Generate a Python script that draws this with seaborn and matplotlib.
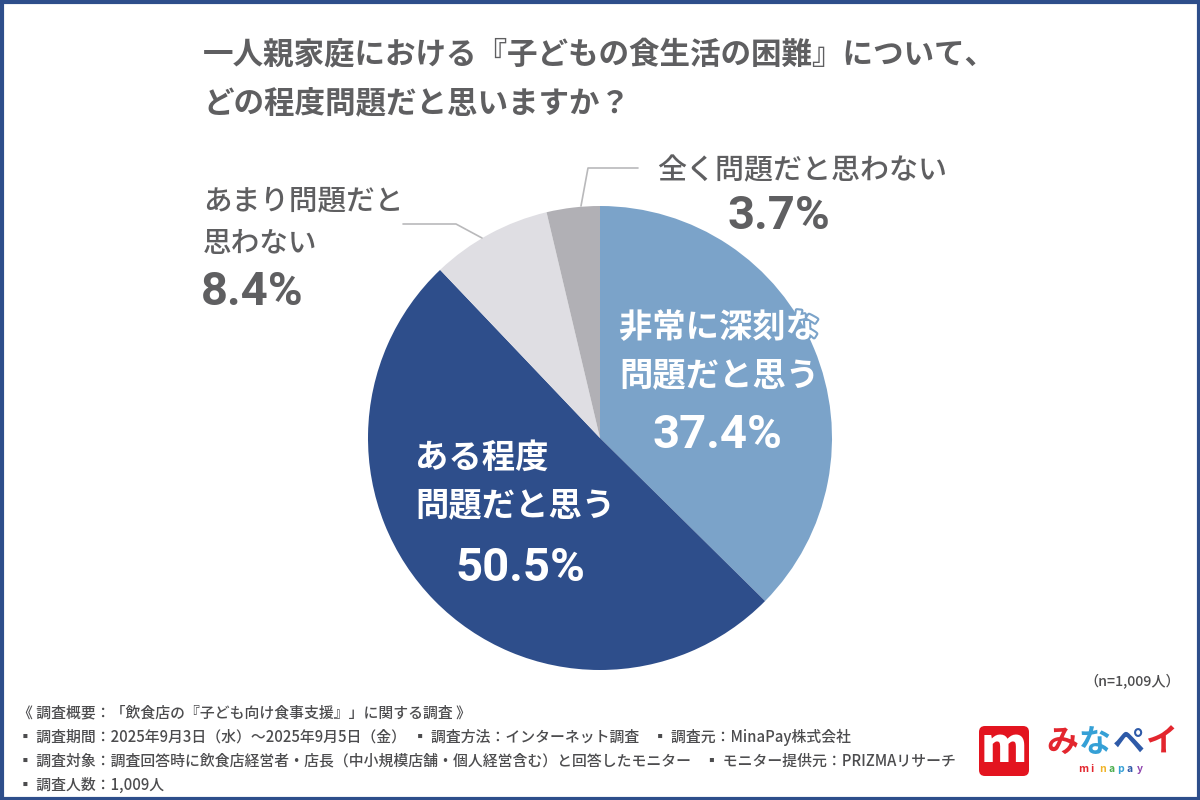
import matplotlib
matplotlib.use('Agg')
import matplotlib.pyplot as plt
import matplotlib.patheffects as pe
from matplotlib.patches import FancyBboxPatch, Rectangle
import seaborn as sns

# data, clockwise from 12 o'clock
categories = ['非常に深刻な\n問題だと思う', 'ある程度\n問題だと思う', 'あまり問題だと\n思わない', '全く問題だと思わない']
values = [37.4, 50.5, 8.4, 3.7]
slice_colors = ['#7ba3c9', '#2e4e8b', '#dfdee3', '#b1b0b5']
title_lines = ['一人親家庭における『子どもの食生活の困難』について、', 'どの程度問題だと思いますか？']
footer_lines = [
    '《 調査概要：「飲食店の『子ども向け食事支援』」に関する調査 》',
    '▪ 調査期間：2025年9月3日（水）～2025年9月5日（金）  ▪ 調査方法：インターネット調査    ▪ 調査元：MinaPay株式会社',
    '▪ 調査対象：調査回答時に飲食店経営者・店長（中小規模店舗・個人経営含む）と回答したモニター    ▪ モニター提供元：PRIZMAリサーチ',
    '▪ 調査人数：1,009人',
]
n_note = '（n=1,009人）'

sns.set_theme(style='white')
plt.rcParams['font.family'] = ['Noto Sans CJK JP', 'DejaVu Sans']
num_font = 'Roboto'

GREY = '#5f5f61'
fig = plt.figure(figsize=(12, 8), dpi=100, facecolor='white')
ax = fig.add_axes([0, 0, 1, 1])

# inverted y axis, so the pie runs clockwise with counterclock=True
ax.pie(values, colors=slice_colors, center=(600, 438), radius=232, startangle=-90,
       counterclock=True, frame=False, wedgeprops={'linewidth': 0})
ax.set_xlim(0, 1200)
ax.set_ylim(800, 0)
ax.set_aspect('auto')
ax.axis('off')

# frame
ax.add_patch(Rectangle((1.5, 1.5), 1197, 797, fill=False, ec='#2e4e8b', lw=3))

# title
ax.text(203, 54, title_lines[0], fontsize=22, fontweight='bold', color=GREY, va='center')
ax.text(203, 104, title_lines[1], fontsize=22, fontweight='bold', color=GREY, va='center')

# labels inside, the top line runs past the pie edge so it gets a blue halo
inner1, inner2 = categories[0].split('\n')
ax.text(619, 328, inner1, fontsize=24, fontweight='bold', color='white', va='center',
        path_effects=[pe.withStroke(linewidth=3, foreground=slice_colors[0])])
ax.text(619, 376, inner2, fontsize=24, fontweight='bold', color='white', va='center')
ax.text(717, 435, '37.4%', fontsize=34, family=num_font, fontweight='bold', color='white', ha='center', va='center')
inner1, inner2 = categories[1].split('\n')
ax.text(415, 458, inner1, fontsize=24, fontweight='bold', color='white', va='center')
ax.text(415, 506, inner2, fontsize=24, fontweight='bold', color='white', va='center')
ax.text(520, 568, '50.5%', fontsize=34, family=num_font, fontweight='bold', color='white', ha='center', va='center')

# labels outside
outer1, outer2 = categories[2].split('\n')
ax.text(203, 201, outer1, fontsize=20.6, fontweight='medium', color=GREY, va='center')
ax.text(203, 243, outer2, fontsize=20.6, fontweight='medium', color=GREY, va='center')
ax.text(252, 292, '8.4%', fontsize=34, family=num_font, fontweight='bold', color=GREY, ha='center', va='center')
ax.text(657, 171, categories[3], fontsize=20.9, fontweight='medium', color=GREY, va='center')
ax.text(779, 216, '3.7%', fontsize=34, family=num_font, fontweight='bold', color=GREY, ha='center', va='center')

# leader lines
ax.plot([403, 456, 482], [224, 224, 238], color='#b9b9bb', lw=1.2)
ax.plot([638, 588, 581], [168, 168, 206], color='#b9b9bb', lw=1.2)

# footer
for text, y in zip(footer_lines, [713, 737, 761, 785]):
    ax.text(18, y, text, fontsize=10.7, fontweight='medium', color='#4c4c4e', va='center')
ax.text(1180, 682, n_note, fontsize=10.2, fontweight='medium', color='#4c4c4e', ha='right', va='center')

# logo
ax.add_patch(FancyBboxPatch((979, 726), 50, 50, boxstyle='round,pad=0,rounding_size=6', fc='#e3141f', ec='none'))
ax.text(1004, 748, 'm', fontsize=34, fontweight='black', color='white', ha='center', va='center')
for ch, x, c in zip('みなペイ', [1062, 1095, 1129, 1162], ['#e3262e', '#35a0d6', '#2e5aa8', '#e3262e']):
    ax.text(x, 743, ch, fontsize=23, fontweight='bold', color=c, ha='center', va='center')
for ch, x, c in zip('minapay', [1083, 1092, 1102, 1112, 1121, 1130, 1140],
                    ['#e3262e', '#e3262e', '#f0b429', '#4cae4f', '#35a0d6', '#2e5aa8', '#8e44ad']):
    ax.text(x, 769, ch, fontsize=7.5, fontweight='bold', color=c, ha='center', va='center')

fig.savefig('out.png', dpi=100, facecolor='white')
